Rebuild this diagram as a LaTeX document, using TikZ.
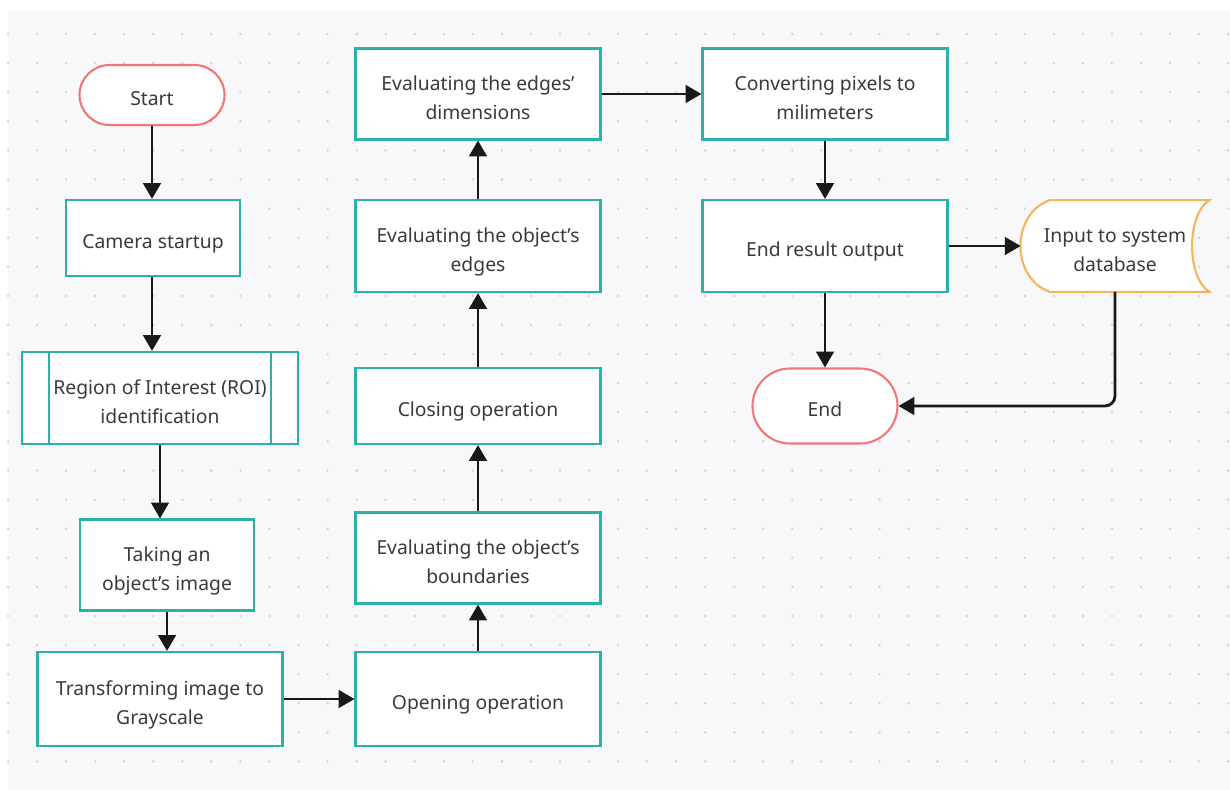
\documentclass[tikz,border=0pt]{standalone}
\usepackage{fontspec}
\setmainfont{Noto Sans}
\usetikzlibrary{arrows.meta,calc}

\definecolor{boxteal}{HTML}{2BB0AA}
\definecolor{termred}{HTML}{F27676}
\definecolor{dborange}{HTML}{F6B45C}
\definecolor{canvas}{HTML}{F8F8FA}
\definecolor{griddot}{HTML}{D6D6DA}
\definecolor{txt}{HTML}{3A3A3A}

% text set a little below the middle of its box
\newcommand\lbl[1]{\raisebox{-2.8pt}[\height][\depth]{\begin{tabular}{@{}c@{}}#1\end{tabular}}}

\tikzset{
  boxfont/.style={font=\fontsize{11}{16.5}\selectfont},
  proc/.style={draw=boxteal, line width=1.2pt, fill=white, text=txt,
    inner sep=0pt, minimum width=4.9cm, boxfont},
  term/.style={draw=termred, line width=1.2pt, fill=white, text=txt,
    inner sep=0pt, minimum width=2.9cm, boxfont},
  arr/.style={-{Triangle[length=9pt,width=10pt]}, line width=1.6pt, black!90}
}

\begin{document}
\begin{tikzpicture}[x=0.02cm,y=-0.02cm]
  \useasboundingbox (0,0) rectangle (1230,790);
  \fill[canvas] (8,11) rectangle (1230,790);
  \foreach \i in {0,...,42}
    \foreach \j in {0,...,25}
      \fill[griddot] (8+29.05*\i,34+29.1*\j) circle (1.4);

  % left column
  \node[term, minimum height=1.2cm, rounded corners=0.6cm] (start) at (152,95) {\lbl{Start}};
  \node[proc, minimum width=3.48cm, minimum height=1.52cm] (cam) at (153,238) {\lbl{Camera startup}};
  \node[proc, minimum width=5.52cm, minimum height=1.84cm] (roi) at (160,398) {\lbl{Region of Interest (ROI)\\identification}};
  \draw[boxteal, line width=1.2pt] ([xshift=0.56cm]roi.north west) -- ([xshift=0.56cm]roi.south west)
    ([xshift=-0.56cm]roi.north east) -- ([xshift=-0.56cm]roi.south east);
  \node[proc, minimum width=3.48cm, minimum height=1.82cm] (take) at (167,565) {\lbl{Taking an\\object’s image}};
  \node[proc, minimum height=1.88cm] (gray) at (160,699) {\lbl{Transforming image to\\Grayscale}};

  % middle column
  \node[proc, minimum height=1.88cm] (open) at (478,699) {\lbl{Opening operation}};
  \node[proc, minimum height=1.82cm] (bound) at (478,558) {\lbl{Evaluating the object’s\\boundaries}};
  \node[proc, minimum height=1.52cm] (close) at (478,406) {\lbl{Closing operation}};
  \node[proc, minimum height=1.84cm] (edges) at (478,246) {\lbl{Evaluating the object’s\\edges}};
  \node[proc, minimum height=1.82cm] (dims) at (478,94) {\lbl{Evaluating the edges’\\dimensions}};

  % right column
  \node[proc, minimum height=1.82cm] (conv) at (825,94) {\lbl{Converting pixels to\\milimeters}};
  \node[proc, minimum height=1.84cm] (result) at (825,246) {\lbl{End result output}};
  \node[term, minimum height=1.5cm, rounded corners=0.75cm] (end) at (825,406) {\lbl{End}};
  \node[inner sep=0pt, minimum width=3.76cm, minimum height=1.82cm] (db) at (1115,246) {};
  \draw[dborange, line width=1.2pt, fill=white]
    ([xshift=0.58cm]db.north west) -- (db.north east)
    .. controls ($(db.north east)+(-23,14)$) and ($(db.south east)+(-23,-14)$) .. (db.south east)
    -- ([xshift=0.58cm]db.south west)
    .. controls ($(db.south west)+(-10,-14)$) and ($(db.north west)+(-10,14)$) .. ([xshift=0.58cm]db.north west) -- cycle;
  \node[text=txt, inner sep=0pt, boxfont] at (db.center) {\lbl{Input to system\\database}};

  \draw[arr] (start.south) -- (start.south |- cam.north);
  \draw[arr] (start.south |- cam.south) -- (start.south |- roi.north);
  \draw[arr] (roi.south) -- (roi.south |- take.north);
  \draw[arr] (take.south) -- (take.south |- gray.north);
  \draw[arr] (gray) -- (open);
  \draw[arr] (open) -- (bound);
  \draw[arr] (bound) -- (close);
  \draw[arr] (close) -- (edges);
  \draw[arr] (edges) -- (dims);
  \draw[arr] (dims) -- (conv);
  \draw[arr] (conv) -- (result);
  \draw[arr] (result) -- (db.west);
  \draw[arr] (result) -- (end);
  \draw[arr, rounded corners=0.2cm] (db.south) |- (end.east);
\end{tikzpicture}
\end{document}
